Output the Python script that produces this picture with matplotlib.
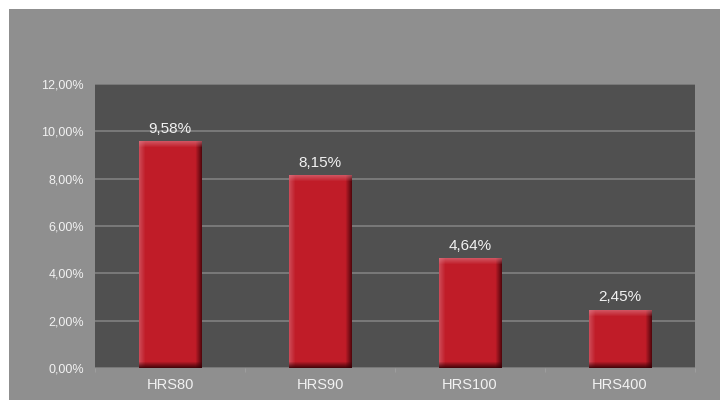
import numpy as np
import matplotlib.pyplot as plt
from matplotlib.colors import to_rgb

plt.rcParams['font.family'] = ['Liberation Sans', 'DejaVu Sans']

# data
categories = ['HRS80', 'HRS90', 'HRS100', 'HRS400']
values = [9.58, 8.15, 4.64, 2.45]
value_labels = ['9,58%', '8,15%', '4,64%', '2,45%']
yticks = [0, 2, 4, 6, 8, 10, 12]
ytick_labels = ['0,00%', '2,00%', '4,00%', '6,00%', '8,00%', '10,00%', '12,00%']

W, H, DPI = 720, 400, 100
fig = plt.figure(figsize=(W / DPI, H / DPI), dpi=DPI, facecolor='white')
# grey chart area with white margin top/left
fig.patches.append(plt.Rectangle((9 / W, 0), 1, 1 - 9 / H, transform=fig.transFigure,
                                 facecolor='#8f8f8f', edgecolor='none', zorder=-10))

ax = fig.add_axes([95 / W, (H - 368) / H, 600 / W, 284 / H])
ax.set_facecolor('#505050')
x = np.arange(len(categories))
bar_w = 0.42
bars = ax.bar(x, values, width=bar_w, color='#c01c28', zorder=2)
ax.set_xlim(-0.5, len(categories) - 0.5)
ax.set_ylim(0, 12)

ax.set_yticks(yticks)
ax.set_yticklabels(ytick_labels)
ax.set_xticks(x)
ax.set_xticklabels(categories)
ax.tick_params(axis='y', length=0, pad=8, labelsize=9, labelcolor='#f2f2f2')
ax.tick_params(axis='x', length=0, pad=7, labelsize=10.5, labelcolor='#f2f2f2')
ax.set_xticks(np.arange(-0.5, len(categories)), minor=True)
ax.tick_params(axis='x', which='minor', length=3, color='#a0a0a0', width=0.6)
ax.grid(axis='y', color='#858585', linewidth=1.1, zorder=1)
for s in ax.spines.values():
    s.set_visible(False)

# bevel shading on each bar
red = np.array(to_rgb('#c01c28'))
light = np.array([0.87, 0.50, 0.55])
dark = np.array([0.20, 0.0, 0.02])
for b in bars:
    x0, w, h = b.get_x(), b.get_width(), b.get_height()
    pw = int(round(w * 600 / len(categories)))
    ph = max(int(round(h * 284 / 12)), 2)
    img = np.tile(red, (ph, pw, 1))
    bev = 6
    for i in range(bev):
        t = 1 - i / bev
        # left highlight
        img[:, i] = img[:, i] * (1 - 0.45 * t) + light * 0.45 * t
        # right shadow
        img[:, pw - 1 - i] = img[:, pw - 1 - i] * (1 - 0.75 * t) + dark * 0.75 * t
    for i in range(bev):
        t = 1 - i / bev
        # top highlight
        img[i, :] = img[i, :] * (1 - 0.55 * t) + light * 0.55 * t
        # bottom shadow
        img[ph - 1 - i, :] = img[ph - 1 - i, :] * (1 - 0.85 * t) + dark * 0.85 * t
    ax.imshow(img, extent=(x0, x0 + w, 0, h), aspect='auto', zorder=3, interpolation='bilinear')

ax.set_xlim(-0.5, len(categories) - 0.5)
ax.set_ylim(0, 12)

for xi, v, lab in zip(x, values, value_labels):
    ax.annotate(lab, (xi, v), xytext=(0, 4), textcoords='offset points',
                ha='center', va='bottom', fontsize=11, color='#f2f2f2', zorder=4)

fig.savefig('out.png', dpi=DPI)
